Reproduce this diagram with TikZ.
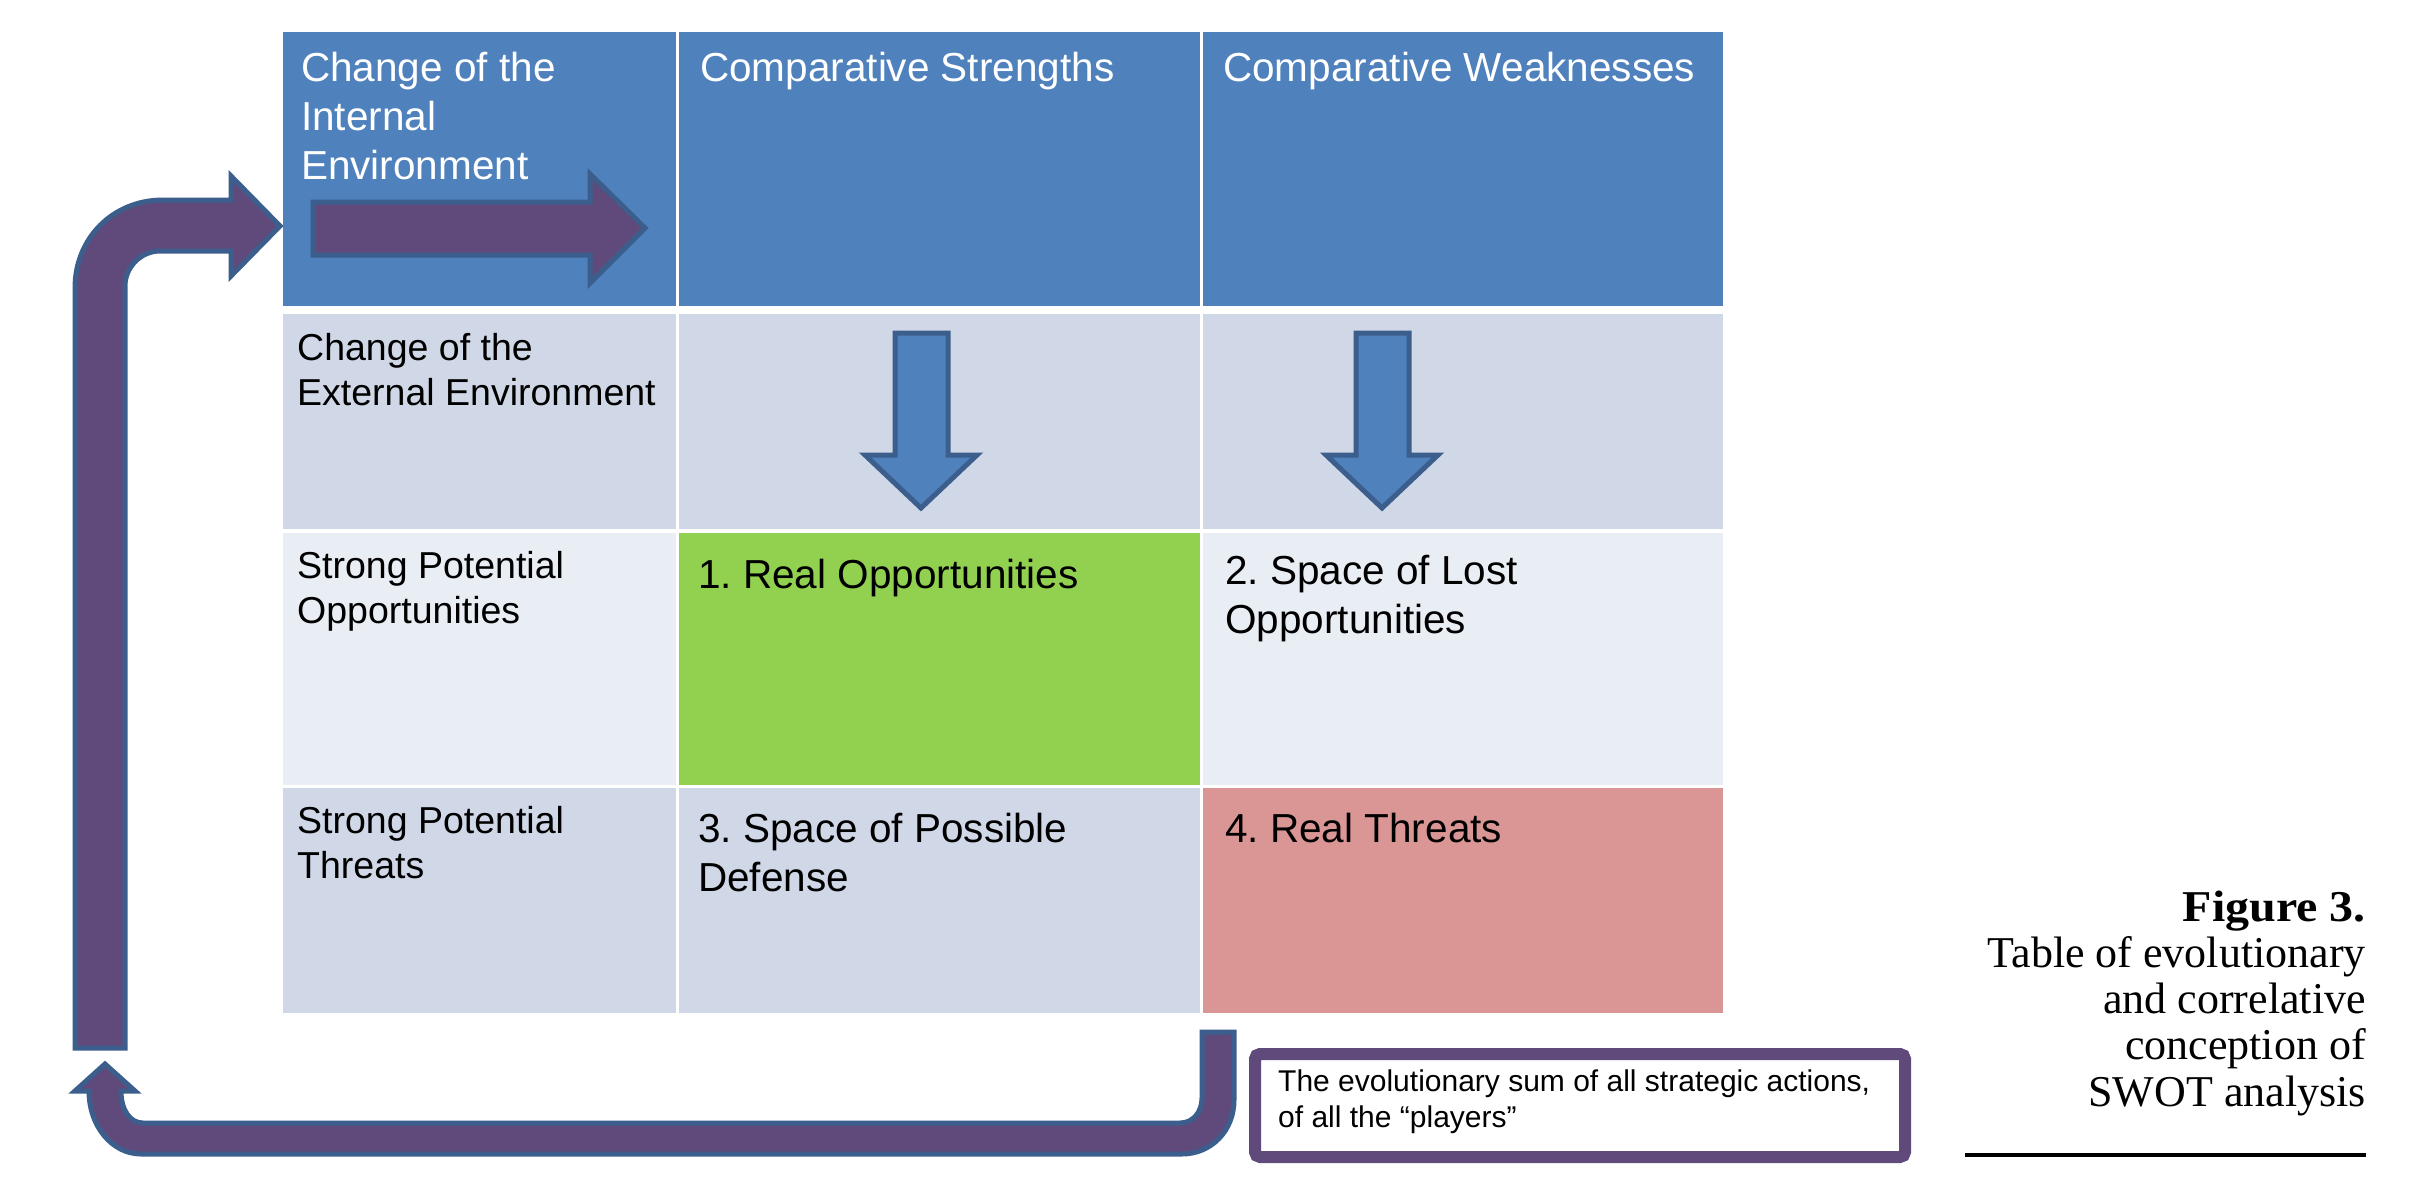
\documentclass[tikz,border=0pt]{standalone}
\usepackage{fontspec}
\usepackage{graphicx}
\setmainfont{Liberation Sans}
\newfontfamily\capfont{Liberation Serif}
\frenchspacing

\definecolor{hdrblue}{HTML}{4F81BD}
\definecolor{rowdark}{HTML}{D0D8E8}
\definecolor{rowlight}{HTML}{E9EDF4}
\definecolor{oppgreen}{HTML}{92D050}
\definecolor{threatred}{HTML}{D99694}
\definecolor{arrowpurple}{HTML}{604A7B}
\definecolor{arrowedge}{HTML}{3B5E8C}

% stacked lines whose baseline is the first line
\newcommand\mlines[1]{\begin{tabular}[t]{@{}l@{}}#1\end{tabular}}
\newcommand\rlines[1]{\begin{tabular}[t]{@{}r@{}}#1\end{tabular}}

\begin{document}
\begin{tikzpicture}[x=1pt,y=-1pt,
  cellbox/.style={anchor=north west, inner sep=0pt, outer sep=0pt, draw=none},
  hdrtxt/.style={anchor=base west, inner sep=0pt, text=white, font=\fontsize{40.5}{49}\selectfont},
  lbltxt/.style={anchor=base west, inner sep=0pt, font=\fontsize{37.5}{45.5}\selectfont},
  quadtxt/.style={anchor=base west, inner sep=0pt, font=\fontsize{40.5}{49}\selectfont},
  boxtxt/.style={anchor=base west, inner sep=0pt, font=\fontsize{30}{36}\selectfont},
  blockarrow/.style={fill=arrowpurple, draw=arrowedge, line width=5pt, line join=miter},
  downarrow/.style={fill=hdrblue, draw=arrowedge, line width=5pt, line join=miter},
]
\useasboundingbox (0,0) rectangle (2410,1180);

% ---- table cells ----
% header row
\node[cellbox, fill=hdrblue, minimum width=393pt, minimum height=274pt] (h1) at (283,32) {};
\node[cellbox, fill=hdrblue, minimum width=521pt, minimum height=274pt] (h2) at (679,32) {};
\node[cellbox, fill=hdrblue, minimum width=520pt, minimum height=274pt] (h3) at (1203,32) {};
% external environment row
\node[cellbox, fill=rowdark, minimum width=393pt, minimum height=215pt] (e1) at (283,314) {};
\node[cellbox, fill=rowdark, minimum width=521pt, minimum height=215pt] (e2) at (679,314) {};
\node[cellbox, fill=rowdark, minimum width=520pt, minimum height=215pt] (e3) at (1203,314) {};
% opportunities row
\node[cellbox, fill=rowlight, minimum width=393pt, minimum height=252pt] (o1) at (283,533) {};
\node[cellbox, fill=oppgreen, minimum width=521pt, minimum height=252pt] (o2) at (679,533) {};
\node[cellbox, fill=rowlight, minimum width=520pt, minimum height=252pt] (o3) at (1203,533) {};
% threats row
\node[cellbox, fill=rowdark, minimum width=393pt, minimum height=225pt] (t1) at (283,788) {};
\node[cellbox, fill=rowdark, minimum width=521pt, minimum height=225pt] (t2) at (679,788) {};
\node[cellbox, fill=threatred, minimum width=520pt, minimum height=225pt] (t3) at (1203,788) {};

% ---- cell texts ----
\node[hdrtxt] (h1t) at (301,82) {\mlines{Change of the\\Internal\\Environment}};
\node[hdrtxt] (h2t) at (700,82) {Comparative Strengths};
\node[hdrtxt] (h3t) at (1223,82) {Comparative Weaknesses};
\node[lbltxt] (e1t) at (297,360) {\mlines{Change of the\\External Environment}};
\node[lbltxt] (o1t) at (297,578) {\mlines{Strong Potential\\Opportunities}};
\node[lbltxt] (t1t) at (297,833) {\mlines{Strong Potential\\Threats}};
\node[quadtxt] (o2t) at (698,588) {1. Real Opportunities};
\node[quadtxt] (o3t) at (1225,584) {\mlines{2. Space of Lost\\Opportunities}};
\node[quadtxt] (t2t) at (698,842) {\mlines{3. Space of Possible\\Defense}};
\node[quadtxt] (t3t) at (1225,842) {4. Real Threats};

% ---- arrows ----
% internal change arrow in the header cell
\draw[blockarrow] (313,202) -- (590,202) -- (590,174) -- (645,228) -- (590,283)
  -- (590,255) -- (313,255) -- cycle;
% external change arrows
\draw[downarrow] (895,333) -- (948,333) -- (948,455) -- (977,455) -- (921,508)
  -- (865,455) -- (895,455) -- cycle;
\draw[downarrow] (1356,333) -- (1409,333) -- (1409,455) -- (1438,455) -- (1382,508)
  -- (1326,455) -- (1356,455) -- cycle;
% bent feedback arrow into the internal environment
\draw[blockarrow] (75,1048) -- (75,288) .. controls (75,238) and (113,200) .. (163,200)
  -- (231,200) -- (231,176) -- (280,226) -- (231,276) -- (231,251) -- (160,251)
  .. controls (141,251) and (125,267) .. (125,286) -- (125,1048) -- cycle;
% U-turn arrow from the sum of strategic actions
\draw[blockarrow] (1202,1032) -- (1202,1098) .. controls (1202,1112) and (1193,1123) .. (1180,1123)
  -- (143,1123) .. controls (130,1123) and (121,1110) .. (121,1091)
  -- (135,1091) -- (105,1064) -- (75,1091) -- (89,1091)
  .. controls (89,1126) and (112,1154) .. (141,1154) -- (1182,1154)
  .. controls (1211,1154) and (1234,1131) .. (1234,1100) -- (1234,1032) -- cycle;

% ---- strategic actions box ----
\node[anchor=north west, draw=arrowpurple, line width=12pt, rounded corners=5pt, fill=white,
      minimum width=650pt, minimum height=103pt, inner sep=0pt] (sumbox) at (1249,1048) {};
\node[boxtxt] (sumtxt) at (1278,1091)
  {\mlines{The evolutionary sum of all strategic actions,\\of all the “players”}};

% ---- caption ----
\node[anchor=base east, inner sep=0pt, font=\capfont\fontsize{44}{46.3}\selectfont] (caption) at (2366,921)
  {\rlines{\scalebox{1.09}[1]{\textbf{Figure 3.}}\\Table of evolutionary\\and correlative\\conception of\\SWOT analysis}};
\coordinate (ruleL) at (1965,1155);
\coordinate (ruleR) at (2366,1155);
\draw[line width=4pt] (ruleL) -- (ruleR);
\end{tikzpicture}
\end{document}
